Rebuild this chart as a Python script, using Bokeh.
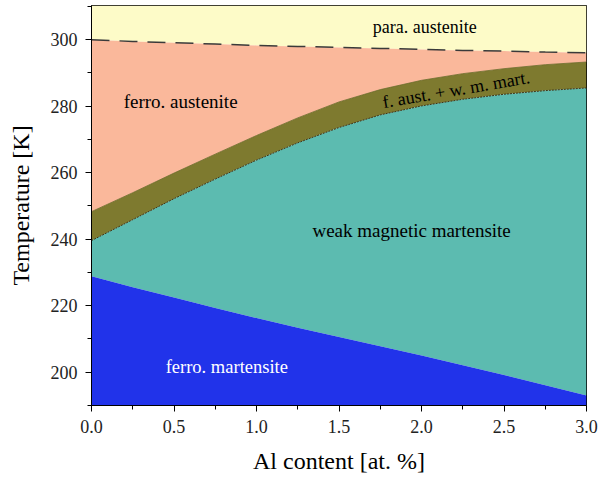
from bokeh.plotting import figure
from bokeh.embed import file_html
from bokeh.resources import INLINE
from bokeh.models import Range1d, FixedTicker, PrintfTickFormatter
from bokeh.core.properties import value

# ---- data ----
al_content = [0.0, 0.25, 0.5, 0.75, 1.0, 1.25, 1.5, 1.75, 2.0, 2.25, 2.5, 2.75, 3.0]
# paramagnetic / ferromagnetic austenite boundary (dashed)
t_curie = [300.0, 299.5, 299.1, 298.7, 298.3, 298.0, 297.7, 297.4, 297.1, 296.8, 296.6, 296.3, 296.1]
# upper boundary of two-phase region (f. aust. + w. m. mart.)
t_upper = [248.3, 254.0, 259.9, 265.6, 271.2, 276.5, 281.3, 285.0, 287.8, 289.8, 291.3, 292.5, 293.3]
# lower boundary of two-phase region
t_lower = [239.6, 245.9, 252.2, 258.1, 263.8, 269.0, 273.6, 277.4, 280.1, 282.1, 283.6, 284.7, 285.5]
# weak magnetic martensite / ferro martensite boundary
t_fm = [228.9, 225.6, 222.5, 219.3, 216.3, 213.4, 210.6, 207.8, 205.0, 202.1, 199.2, 196.1, 193.0]

x_ticks = [0.0, 0.5, 1.0, 1.5, 2.0, 2.5, 3.0]
y_ticks = [200, 220, 240, 260, 280, 300]
X_MIN, X_MAX = 0.0, 3.0
Y_MIN, Y_MAX = 190.0, 310.3

labels = ["para. austenite", "ferro. austenite", "f. aust. + w. m. mart.",
          "weak magnetic martensite", "ferro. martensite"]

FONT = "Liberation Serif"

p = figure(width=604, height=476, output_backend="svg", toolbar_location=None,
           x_range=Range1d(X_MIN, X_MAX), y_range=Range1d(Y_MIN, Y_MAX),
           min_border_left=91, min_border_right=18, min_border_top=5, min_border_bottom=70)
p.background_fill_color = "white"
p.border_fill_color = "white"
p.outline_line_color = "black"
p.outline_line_width = 1
p.grid.visible = False

n = len(al_content)
top = [Y_MAX] * n
bottom = [Y_MIN] * n

p.varea(x=al_content, y1=t_curie, y2=top, fill_color="#FDFBC8")
p.varea(x=al_content, y1=t_upper, y2=t_curie, fill_color="#FAB89B")
p.varea(x=al_content, y1=t_lower, y2=t_upper, fill_color="#7E7A2F")
p.varea(x=al_content, y1=t_fm, y2=t_lower, fill_color="#5CBBB0")
p.varea(x=al_content, y1=bottom, y2=t_fm, fill_color="#2133EA")

p.line(x=al_content, y=t_curie, line_color="#3a3a3a", line_width=1.5, line_dash="18 10")
p.line(x=al_content, y=t_lower, line_color="#3d3415", line_width=1, line_dash="2 1")
p.line(x=al_content, y=t_upper, line_color="#6f6a28", line_width=0.8)

# region labels
p.text(x=[2.02], y=[303.9], text=[labels[0]], text_font=value(FONT), text_font_size="18px",
       text_color="black", text_align="center", text_baseline="middle")
p.text(x=[0.54], y=[281.5], text=[labels[1]], text_font=value(FONT), text_font_size="19px",
       text_color="black", text_align="center", text_baseline="middle")
p.text(x=[2.21], y=[285.0], text=[labels[2]], text_font=value(FONT), text_font_size="18px",
       text_color="black", text_align="center", text_baseline="middle", angle=0.17)
p.text(x=[1.94], y=[242.6], text=[labels[3]], text_font=value(FONT), text_font_size="19px",
       text_color="black", text_align="center", text_baseline="middle")
p.text(x=[0.82], y=[201.6], text=[labels[4]], text_font=value(FONT), text_font_size="18.5px",
       text_color="white", text_align="center", text_baseline="middle")

# axes
for ax in (p.xaxis[0], p.yaxis[0]):
    ax.axis_line_color = "black"
    ax.major_tick_line_color = "black"
    ax.minor_tick_line_color = "black"
    ax.major_tick_in = 0
    ax.major_tick_out = 6
    ax.minor_tick_in = 0
    ax.minor_tick_out = 4
    ax.major_label_text_font = FONT
    ax.major_label_text_font_size = "18px"
    ax.major_label_text_color = "#222222"
    ax.axis_label_text_font = FONT
    ax.axis_label_text_font_style = "normal"
    ax.axis_label_text_color = "black"

p.xaxis.ticker = FixedTicker(ticks=x_ticks, minor_ticks=[0.25, 0.75, 1.25, 1.75, 2.25, 2.75])
p.xaxis.formatter = PrintfTickFormatter(format="%.1f")
p.xaxis.major_label_standoff = 8
p.xaxis.axis_label = "Al content [at. %]"
p.xaxis.axis_label_text_font_size = "24px"
p.xaxis.axis_label_standoff = 12

p.yaxis.ticker = FixedTicker(ticks=y_ticks, minor_ticks=[190, 210, 230, 250, 270, 290, 310])
p.yaxis.major_label_standoff = 8
p.yaxis.axis_label = "Temperature [K]"
p.yaxis.axis_label_text_font_size = "24px"
p.yaxis.axis_label_standoff = 14

open("out.html", "w").write(file_html(p, INLINE))
